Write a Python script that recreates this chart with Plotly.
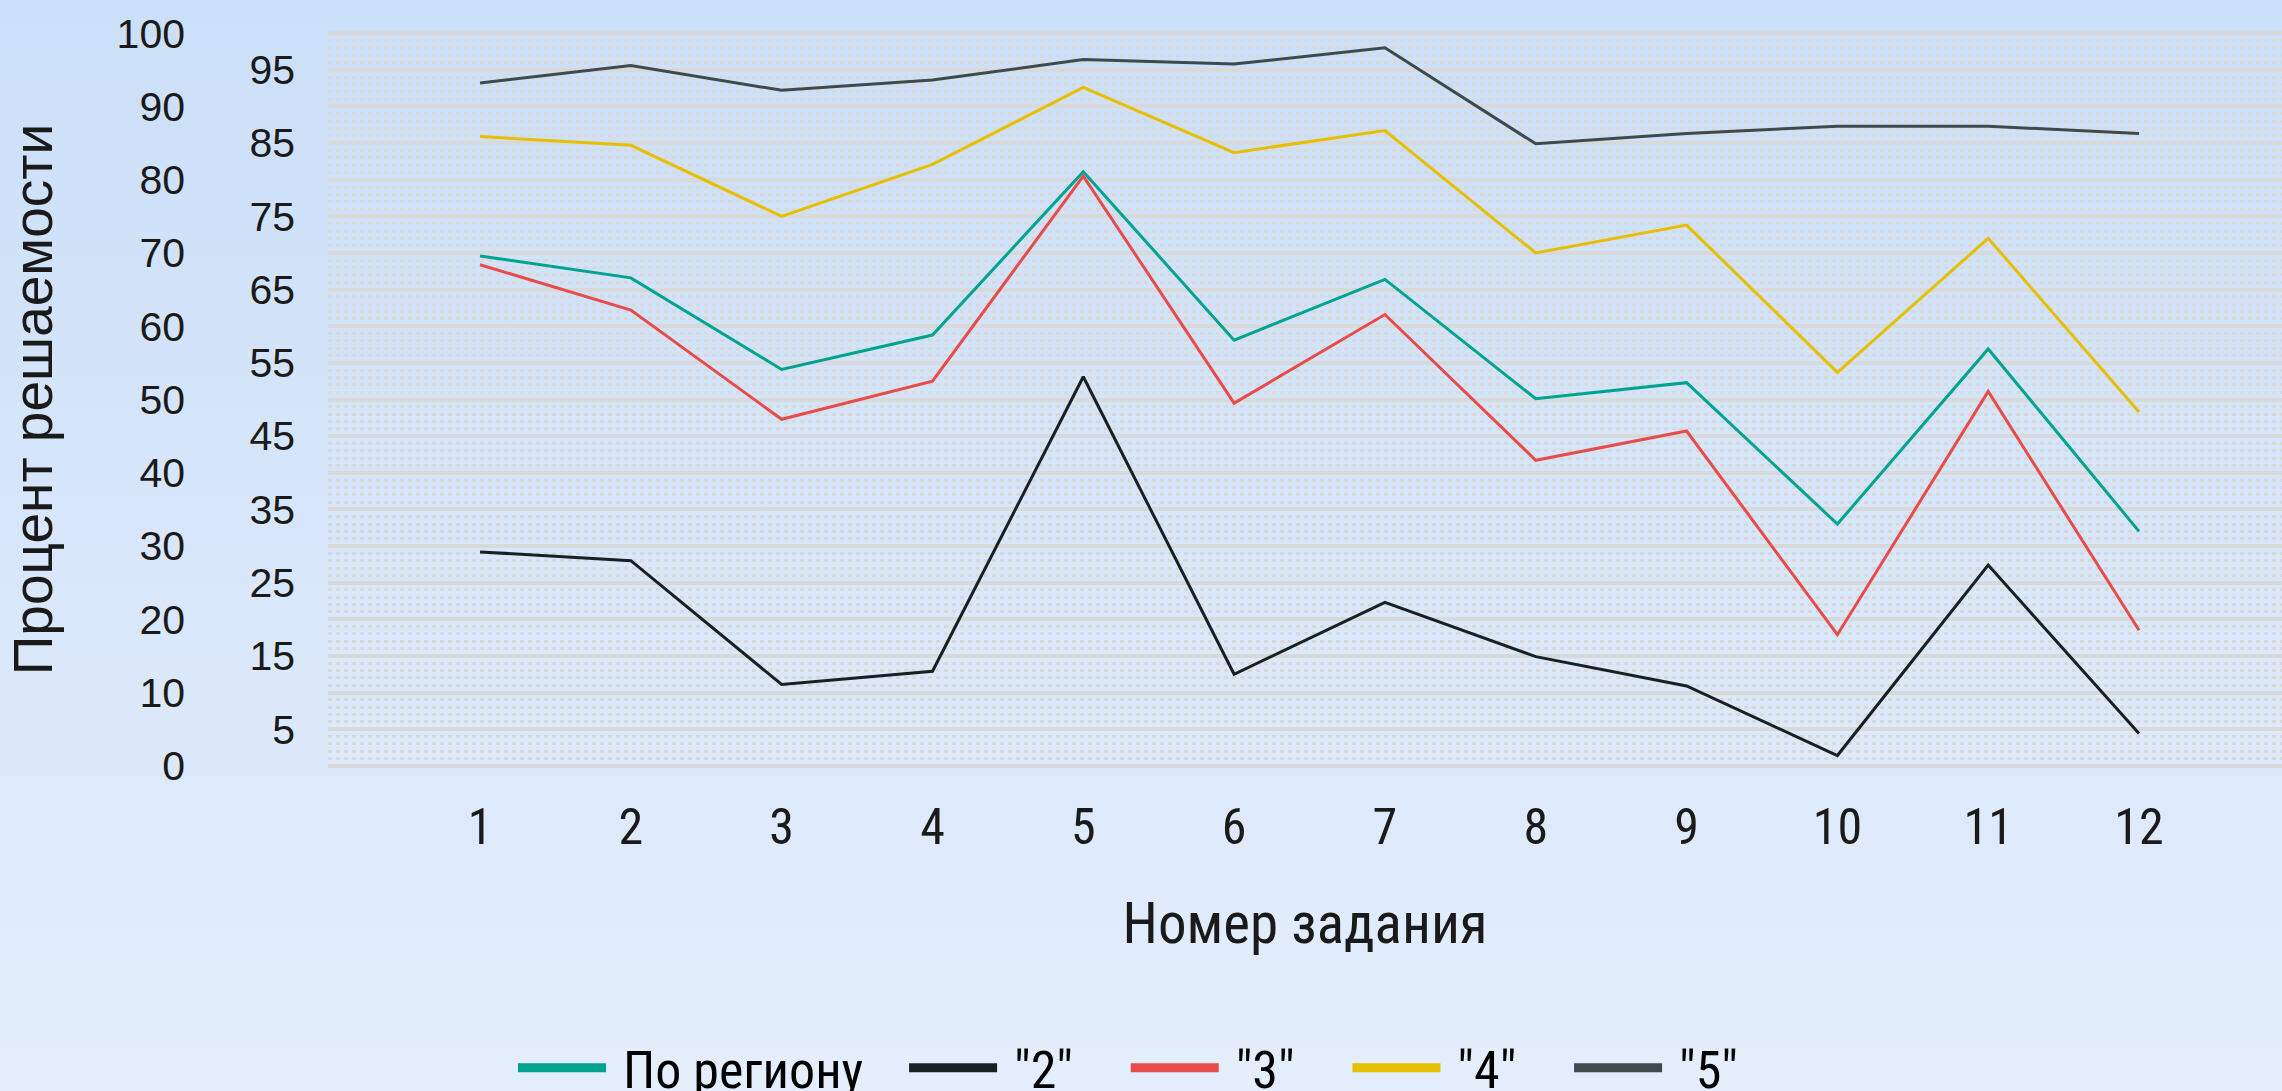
import base64
import plotly.graph_objects as go

# ---- data ----
tasks = [1, 2, 3, 4, 5, 6, 7, 8, 9, 10, 11, 12]
task_labels = [str(t) for t in tasks]
region = [69.6, 66.6, 54.1, 58.8, 81.1, 58.1, 66.4, 50.1, 52.3, 33.0, 56.9, 32.0]
grade2 = [29.2, 28.0, 11.1, 12.9, 53.1, 12.5, 22.3, 14.9, 10.9, 1.4, 27.4, 4.4]
grade3 = [68.4, 62.2, 47.3, 52.5, 80.5, 49.5, 61.6, 41.7, 45.7, 17.9, 51.1, 18.5]
grade4 = [85.9, 84.7, 75.0, 82.1, 92.6, 83.7, 86.7, 70.0, 73.8, 53.7, 72.0, 48.3]
grade5 = [93.2, 95.6, 92.2, 93.6, 96.4, 95.8, 98.0, 84.9, 86.3, 87.3, 87.3, 86.3]
series_names = ["По региону", '"2"', '"3"', '"4"', '"5"']
series_values = [region, grade2, grade3, grade4, grade5]
series_colors = ["#00a38f", "#172022", "#e84c4a", "#e6bf00", "#3e4a4b"]
y_major_ticks = list(range(0, 101, 10))
y_mid_ticks = list(range(5, 100, 10))

W, H = 2282, 1091
L, R, T, B = 328, 0, 31, 323
NARROW = "Roboto Condensed, DejaVu Sans Condensed, sans-serif"
REG = "Liberation Sans, Arial, sans-serif"
NB = "\u00a0"
legend_pad = [3, 4, 4, 4, 3]  # trailing spacing per legend entry

fig = go.Figure()
for name, vals, col in zip(series_names, series_values, series_colors):
    fig.add_trace(go.Scatter(x=tasks, y=vals, mode="lines", name=name,
                             line=dict(color=col, width=3), showlegend=False))
# legend entries (thicker line samples)
for name, col, pad in zip(series_names, series_colors, legend_pad):
    fig.add_trace(go.Scatter(x=[None], y=[None], mode="lines", name=NB + name + NB * pad,
                             line=dict(color=col, width=9), showlegend=True))
# invisible trace to activate the second y axis
fig.add_trace(go.Scatter(x=[None], y=[None], yaxis="y2", showlegend=False))

# gradient background
svg = ('<svg xmlns="http://www.w3.org/2000/svg" width="100" height="100" preserveAspectRatio="none">'
       '<defs><linearGradient id="g" x1="0" y1="0" x2="0" y2="1">'
       '<stop offset="0" stop-color="rgb(203,223,248)"/>'
       '<stop offset="1" stop-color="rgb(228,238,252)"/>'
       '</linearGradient></defs><rect width="100" height="100" fill="url(#g)"/></svg>')
src = "data:image/svg+xml;base64," + base64.b64encode(svg.encode()).decode()
pw, ph = W - L - R, H - T - B
fig.add_layout_image(dict(source=src, xref="paper", yref="paper",
                          x=-L / pw, y=1 + T / ph, sizex=W / pw, sizey=H / ph,
                          xanchor="left", yanchor="top", sizing="stretch", layer="below"))

grid_col = "#d9d9d9"
fig.update_layout(
    width=W, height=H,
    margin=dict(l=L, r=R, t=T, b=B, autoexpand=False),
    paper_bgcolor="rgb(216,230,250)",
    plot_bgcolor="rgba(0,0,0,0)",
    showlegend=True,
    legend=dict(orientation="h", x=(1146 - L) / pw, xanchor="center",
                y=-(1068 - (H - B)) / ph, yanchor="middle",
                font=dict(family=NARROW, size=52, color="#000000"),
                itemwidth=88, bgcolor="rgba(0,0,0,0)"),
    xaxis=dict(range=[-0.008, 12.948], tickvals=tasks, ticktext=task_labels,
               showgrid=False, zeroline=False, showline=False, ticks="",
               automargin=False,
               tickfont=dict(family=NARROW, size=50, color="#1a1a1a"),
               ticklabelstandoff=25,
               title=dict(text="Номер задания", standoff=48,
                          font=dict(family=NARROW, size=57, color="#1a1a1a"))),
    yaxis=dict(range=[-0.3, 100.3], tickvals=y_major_ticks,
               ticktext=[str(v) for v in y_major_ticks],
               showgrid=True, gridcolor=grid_col, gridwidth=4,
               zeroline=False, showline=False, ticks="", automargin=False,
               tickfont=dict(family=REG, size=41, color="#1a1a1a"),
               ticklabelstandoff=142,
               minor=dict(dtick=1, showgrid=True, gridcolor=grid_col, gridwidth=3,
                          griddash="4px,4px"),
               title=dict(text="Процент решаемости", standoff=46,
                          font=dict(family=REG, size=55, color="#1a1a1a"))),
    yaxis2=dict(range=[-0.3, 100.3], overlaying="y", side="left",
                tickvals=y_mid_ticks, ticktext=[str(v) for v in y_mid_ticks],
                showgrid=True, gridcolor=grid_col, gridwidth=4,
                zeroline=False, showline=False, ticks="", automargin=False,
                tickfont=dict(family=REG, size=41, color="#1a1a1a"),
                ticklabelstandoff=32),
)

fig.write_html("out.html", config={"displayModeBar": False},
               post_script="document.body.style.margin='0';")
